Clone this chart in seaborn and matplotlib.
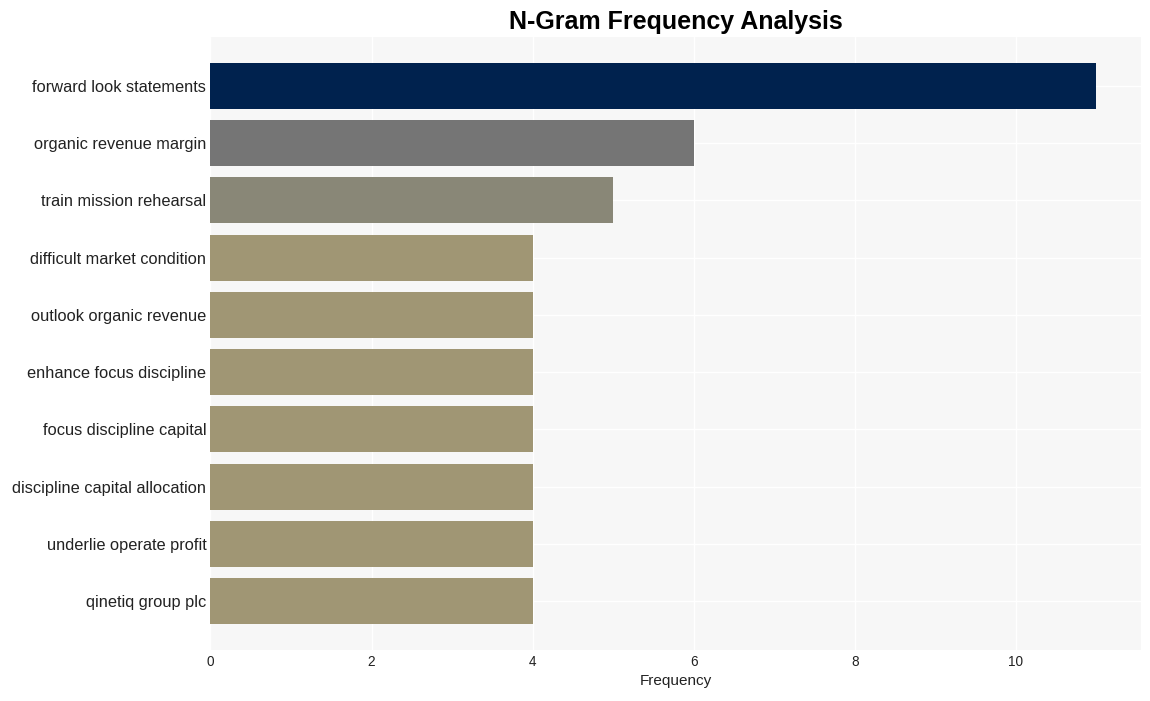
import matplotlib
matplotlib.use("Agg")
import matplotlib.pyplot as plt
import seaborn as sns
import pandas as pd

ngrams = [
    "forward look statements",
    "organic revenue margin",
    "train mission rehearsal",
    "difficult market condition",
    "outlook organic revenue",
    "enhance focus discipline",
    "focus discipline capital",
    "discipline capital allocation",
    "underlie operate profit",
    "qinetiq group plc",
]
frequency = [11, 6, 5, 4, 4, 4, 4, 4, 4, 4]
colors = ["#00224e", "#757575", "#898777", "#a09674", "#a09674",
          "#a09674", "#a09674", "#a09674", "#a09674", "#a09674"]

df = pd.DataFrame({"ngram": ngrams, "freq": frequency})

sns.set_theme(style="whitegrid")
plt.rcParams["font.family"] = ["Liberation Sans", "DejaVu Sans"]

fig, ax = plt.subplots(figsize=(11.5, 7.01), dpi=100)
ax.set_facecolor("#f7f7f7")
sns.barplot(data=df, x="freq", y="ngram", hue="ngram", palette=colors,
            legend=False, ax=ax, width=0.8, saturation=1, linewidth=0)
ax.grid(True, color="white", linewidth=1)
for s in ax.spines.values():
    s.set_visible(False)
ax.set_ylim(9.85, -0.85)
ax.set_title("N-Gram Frequency Analysis", fontsize=18, fontweight="bold", pad=6, color="black")
ax.set_xlabel("Frequency", fontsize=11, color="#222222")
ax.set_ylabel("")
ax.tick_params(axis="y", labelsize=11.8, length=0, pad=3, labelcolor="#222222")
ax.tick_params(axis="x", labelsize=9.8, length=0, labelcolor="#222222")
ax.set_xticks([0, 2, 4, 6, 8, 10])
fig.subplots_adjust(left=0.183, right=0.992, top=0.947, bottom=0.073)
fig.savefig("out.png", dpi=100, facecolor="white")
